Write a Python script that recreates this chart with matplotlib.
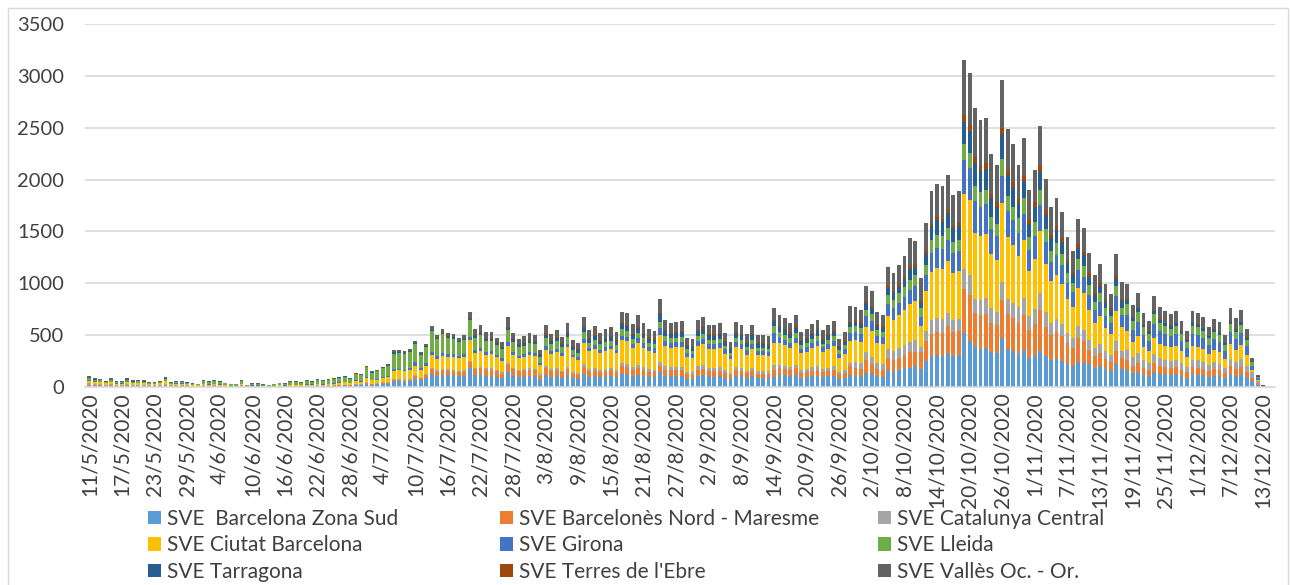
import matplotlib.pyplot as plt
import numpy as np
import pandas as pd
from matplotlib.patches import Rectangle

plt.rcParams['font.family'] = ['Lato', 'DejaVu Sans']

# dies 11/5/2020 - 13/12/2020
dates = pd.date_range('2020-05-11', '2020-12-13')
labels = [f'{d.day}/{d.month}/{d.year}' for d in dates]

zona_sud = [13, 10, 9, 7, 10, 7, 7, 10, 8, 8,
            8, 6, 5, 7, 11, 6, 7, 7, 6, 4,
            4, 6, 5, 5, 5, 3, 2, 2, 5, 2,
            3, 3, 2, 2, 3, 3, 3, 4, 5, 4,
            5, 5, 6, 5, 6, 7, 14, 16, 12, 20,
            19, 31, 22, 25, 30, 33, 54, 55, 52, 57,
            80, 65, 85, 121, 110, 120, 115, 112, 105, 108,
            181, 120, 125, 110, 105, 95, 85, 140, 110, 95,
            100, 105, 102, 70, 118, 100, 105, 90, 115, 85,
            75, 125, 100, 108, 95, 100, 105, 95, 130, 125,
            108, 117, 105, 96, 92, 143, 110, 105, 106, 108,
            81, 78, 110, 115, 102, 101, 104, 89, 74, 106,
            102, 87, 102, 85, 85, 83, 95, 118, 112, 105,
            117, 90, 95, 104, 110, 94, 102, 109, 79, 90,
            112, 110, 106, 134, 132, 103, 100, 166, 157, 168,
            181, 186, 202, 177, 250, 295, 306, 300, 330, 300,
            305, 523, 440, 394, 370, 380, 340, 325, 468, 370,
            350, 320, 355, 280, 310, 348, 300, 260, 275, 255,
            220, 200, 245, 232, 226, 185, 205, 172, 155, 220,
            175, 165, 131, 149, 118, 105, 144, 127, 121, 116,
            121, 105, 89, 121, 118, 111, 96, 109, 103, 83,
            125, 109, 122, 93, 54, 20, 3]

nord = [9, 7, 6, 5, 7, 5, 4, 7, 5, 5,
        5, 4, 4, 5, 8, 4, 5, 4, 4, 3,
        2, 4, 3, 4, 3, 2, 2, 1, 3, 1,
        2, 2, 1, 1, 2, 2, 2, 3, 3, 2,
        3, 3, 4, 3, 4, 4, 3, 3, 3, 4,
        4, 6, 5, 5, 6, 7, 10, 11, 10, 11,
        22, 18, 26, 48, 38, 42, 40, 40, 38, 40,
        57, 50, 55, 55, 60, 55, 45, 75, 62, 55,
        58, 62, 60, 40, 65, 55, 58, 50, 62, 45,
        42, 70, 55, 60, 52, 55, 58, 52, 72, 70,
        60, 62, 56, 51, 49, 57, 58, 56, 56, 57,
        43, 41, 58, 61, 54, 54, 55, 47, 39, 56,
        54, 46, 54, 45, 45, 44, 73, 62, 59, 56,
        62, 48, 50, 55, 58, 50, 54, 58, 42, 48,
        90, 75, 72, 122, 89, 70, 68, 112, 107, 114,
        123, 150, 137, 161, 190, 220, 226, 225, 255, 230,
        235, 419, 450, 323, 320, 320, 280, 270, 371, 330,
        320, 300, 335, 265, 295, 394, 280, 240, 255, 235,
        200, 180, 225, 212, 129, 110, 120, 100, 90, 130,
        100, 95, 76, 87, 69, 61, 84, 74, 70, 67,
        70, 61, 52, 70, 69, 65, 56, 63, 60, 48,
        73, 63, 71, 54, 35, 15, 2]

central = [16, 13, 12, 9, 12, 9, 9, 13, 10, 10,
           9, 7, 7, 9, 14, 7, 9, 9, 8, 5,
           5, 7, 6, 7, 6, 4, 3, 3, 7, 2,
           3, 4, 2, 2, 3, 4, 3, 5, 5, 4,
           6, 6, 7, 6, 7, 8, 4, 4, 3, 6,
           5, 8, 6, 7, 8, 9, 13, 13, 12, 13,
           10, 8, 10, 16, 14, 15, 15, 15, 14, 15,
           16, 16, 17, 16, 16, 15, 14, 20, 16, 15,
           15, 16, 16, 12, 18, 17, 18, 16, 20, 15,
           14, 22, 18, 20, 18, 20, 20, 19, 26, 25,
           22, 35, 31, 28, 27, 45, 32, 31, 31, 32,
           24, 23, 32, 34, 30, 30, 31, 26, 22, 31,
           30, 25, 30, 25, 25, 24, 48, 35, 33, 31,
           35, 27, 28, 31, 32, 28, 30, 32, 23, 26,
           32, 60, 58, 80, 72, 56, 54, 90, 86, 92,
           99, 96, 110, 48, 100, 130, 135, 135, 130, 120,
           120, 194, 190, 129, 150, 160, 140, 130, 177, 150,
           140, 150, 170, 135, 150, 168, 140, 120, 128, 118,
           100, 92, 114, 107, 97, 80, 90, 75, 67, 96,
           76, 100, 80, 90, 72, 64, 88, 77, 73, 70,
           73, 64, 54, 73, 72, 67, 58, 66, 63, 50,
           76, 66, 74, 56, 54, 20, 3]

ciutat = [23, 19, 17, 13, 18, 12, 13, 19, 14, 15,
          14, 10, 10, 13, 21, 10, 12, 13, 11, 8,
          7, 10, 9, 10, 9, 6, 4, 5, 10, 3,
          5, 5, 4, 3, 5, 6, 5, 8, 8, 7,
          10, 9, 11, 10, 11, 13, 20, 22, 17, 27,
          25, 41, 30, 33, 39, 45, 80, 82, 78, 85,
          95, 70, 85, 127, 110, 125, 120, 125, 118, 125,
          197, 140, 150, 130, 135, 120, 110, 165, 125, 115,
          120, 128, 125, 90, 160, 145, 160, 145, 185, 140,
          130, 210, 170, 180, 165, 175, 180, 165, 225, 220,
          185, 207, 185, 169, 162, 258, 194, 185, 188, 190,
          143, 138, 194, 203, 180, 178, 184, 158, 131, 188,
          179, 153, 180, 150, 150, 146, 213, 208, 198, 186,
          207, 159, 167, 183, 195, 165, 180, 192, 139, 158,
          205, 207, 200, 240, 249, 194, 188, 314, 297, 318,
          341, 368, 381, 200, 390, 460, 477, 475, 500, 450,
          460, 729, 720, 639, 620, 620, 520, 500, 758, 600,
          560, 490, 555, 440, 480, 590, 465, 400, 420, 388,
          330, 300, 375, 352, 290, 245, 268, 225, 202, 288,
          227, 182, 145, 165, 131, 116, 160, 141, 134, 128,
          134, 116, 99, 134, 131, 123, 106, 120, 115, 92,
          139, 121, 136, 103, 25, 12, 2]

girona = [6, 5, 5, 3, 5, 4, 3, 5, 4, 4,
          4, 3, 3, 3, 6, 3, 4, 3, 3, 2,
          2, 3, 3, 3, 3, 2, 2, 1, 3, 1,
          2, 2, 1, 1, 1, 2, 2, 3, 3, 2,
          3, 3, 4, 3, 4, 4, 5, 5, 4, 7,
          6, 10, 8, 8, 10, 11, 16, 16, 16, 17,
          32, 18, 22, 25, 25, 28, 27, 28, 27, 28,
          32, 28, 30, 27, 27, 25, 22, 35, 25, 23,
          24, 26, 25, 18, 30, 28, 30, 27, 35, 26,
          25, 38, 32, 34, 30, 32, 33, 30, 42, 42,
          36, 55, 49, 45, 43, 64, 52, 49, 50, 51,
          38, 37, 52, 54, 48, 48, 49, 42, 35, 50,
          48, 41, 48, 40, 40, 39, 95, 55, 53, 50,
          55, 42, 45, 49, 52, 44, 48, 51, 37, 42,
          83, 77, 74, 106, 92, 72, 70, 118, 110, 118,
          126, 134, 141, 90, 150, 190, 194, 195, 200, 190,
          190, 323, 310, 306, 280, 280, 240, 230, 258, 250,
          240, 225, 250, 200, 220, 252, 210, 182, 190, 177,
          152, 140, 170, 161, 145, 120, 132, 110, 100, 143,
          112, 150, 121, 137, 109, 97, 133, 117, 111, 106,
          111, 97, 82, 111, 109, 102, 88, 100, 95, 76,
          115, 100, 113, 86, 38, 15, 2]

lleida = [19, 15, 14, 10, 15, 10, 11, 15, 11, 12,
          12, 9, 8, 10, 18, 9, 11, 11, 10, 7,
          6, 29, 26, 30, 26, 19, 13, 13, 31, 8,
          16, 15, 12, 8, 14, 19, 16, 25, 26, 21,
          29, 27, 35, 29, 35, 42, 45, 49, 37, 62,
          55, 94, 67, 74, 89, 100, 150, 150, 147, 153,
          175, 130, 155, 203, 165, 180, 155, 145, 130, 133,
          159, 120, 125, 110, 105, 95, 90, 110, 95, 80,
          82, 85, 82, 60, 85, 70, 68, 55, 68, 48,
          45, 65, 52, 55, 50, 50, 52, 48, 62, 60,
          52, 48, 43, 39, 38, 60, 45, 43, 44, 44,
          33, 32, 45, 47, 42, 42, 43, 37, 31, 44,
          42, 36, 42, 35, 35, 34, 64, 49, 46, 43,
          48, 37, 39, 43, 45, 38, 42, 45, 32, 37,
          61, 60, 58, 61, 72, 56, 54, 90, 86, 92,
          99, 99, 110, 90, 95, 125, 129, 125, 120, 110,
          110, 152, 150, 145, 140, 140, 120, 115, 168, 140,
          130, 140, 155, 125, 135, 145, 130, 112, 118, 110,
          95, 87, 105, 100, 97, 80, 88, 75, 67, 96,
          76, 110, 87, 99, 79, 70, 96, 85, 80, 77,
          80, 70, 60, 80, 79, 74, 64, 72, 69, 55,
          83, 73, 82, 62, 32, 15, 2]

tarragona = [4, 4, 3, 2, 3, 2, 2, 4, 3, 3,
             3, 2, 2, 2, 4, 2, 2, 2, 2, 1,
             1, 2, 2, 2, 2, 2, 1, 1, 2, 1,
             1, 1, 1, 1, 1, 1, 1, 2, 2, 1,
             2, 2, 2, 2, 2, 3, 3, 3, 3, 4,
             4, 6, 5, 5, 6, 7, 10, 10, 10, 10,
             10, 7, 9, 13, 12, 12, 12, 13, 12, 13,
             16, 18, 20, 18, 18, 17, 16, 25, 25, 22,
             23, 24, 24, 17, 30, 27, 30, 28, 35, 27,
             26, 40, 33, 36, 32, 35, 36, 34, 46, 45,
             38, 48, 43, 39, 38, 73, 45, 43, 44, 44,
             33, 32, 45, 47, 42, 42, 43, 37, 31, 44,
             42, 36, 42, 35, 35, 34, 48, 49, 46, 43,
             48, 37, 39, 43, 45, 38, 42, 45, 32, 37,
             32, 42, 41, 64, 51, 40, 38, 64, 61, 65,
             70, 102, 78, 45, 110, 130, 145, 140, 145, 130,
             135, 219, 210, 226, 200, 205, 180, 170, 235, 200,
             190, 145, 165, 130, 145, 177, 137, 118, 124, 115,
             98, 88, 110, 104, 81, 70, 75, 63, 57, 80,
             63, 35, 27, 31, 24, 22, 30, 26, 25, 24,
             25, 22, 18, 25, 24, 23, 20, 22, 21, 17,
             26, 22, 25, 19, 16, 6, 1]

ebre = [2, 2, 1, 1, 2, 1, 1, 2, 1, 1,
        1, 1, 0, 1, 2, 1, 1, 1, 1, 1,
        0, 1, 1, 1, 1, 1, 0, 1, 1, 0,
        1, 1, 0, 0, 1, 1, 1, 1, 1, 1,
        1, 1, 2, 1, 1, 2, 1, 1, 1, 1,
        1, 2, 1, 1, 2, 2, 3, 3, 3, 3,
        3, 2, 3, 0, 3, 4, 4, 4, 3, 4,
        10, 8, 8, 8, 8, 8, 7, 12, 10, 8,
        9, 10, 10, 7, 10, 9, 10, 9, 11, 8,
        8, 12, 10, 11, 10, 10, 10, 10, 14, 13,
        11, 14, 12, 11, 11, 10, 13, 12, 13, 13,
        10, 9, 13, 14, 12, 12, 12, 10, 9, 13,
        12, 10, 12, 10, 10, 10, 10, 14, 13, 12,
        14, 11, 11, 12, 13, 11, 12, 13, 9, 11,
        10, 15, 14, 26, 18, 14, 13, 22, 21, 22,
        24, 32, 27, 15, 25, 25, 23, 25, 30, 25,
        25, 65, 60, 58, 50, 50, 40, 40, 65, 50,
        45, 47, 53, 42, 46, 55, 44, 38, 40, 37,
        32, 29, 36, 34, 32, 26, 28, 23, 21, 30,
        24, 8, 6, 7, 6, 5, 7, 6, 6, 6,
        6, 5, 4, 6, 6, 5, 5, 5, 5, 4,
        6, 5, 6, 5, 0, 0, 0]

valles = [14, 11, 10, 8, 11, 8, 8, 11, 8, 9,
          8, 6, 6, 8, 12, 6, 7, 8, 6, 4,
          5, 5, 3, 5, 3, 3, 2, 2, 5, 1,
          2, 2, 2, 1, 2, 3, 2, 3, 4, 3,
          5, 4, 5, 5, 6, 6, 4, 5, 3, 6,
          5, 9, 6, 7, 7, 9, 20, 19, 19, 20,
          18, 16, 18, 32, 25, 31, 30, 33, 30, 33,
          54, 63, 68, 54, 54, 47, 47, 89, 57, 54,
          56, 62, 62, 45, 82, 64, 68, 63, 83, 58,
          55, 95, 77, 84, 73, 80, 85, 81, 108, 109,
          92, 104, 93, 85, 81, 142, 97, 93, 94, 94,
          72, 71, 97, 102, 91, 88, 93, 79, 64, 94,
          89, 75, 91, 74, 74, 73, 111, 103, 101, 94,
          104, 80, 83, 91, 99, 82, 90, 95, 71, 79,
          159, 122, 119, 143, 147, 115, 113, 182, 176, 189,
          201, 273, 224, 222, 271, 319, 323, 322, 338, 300,
          307, 531, 496, 467, 441, 435, 382, 365, 458, 394,
          370, 322, 365, 286, 316, 387, 304, 262, 273, 252,
          215, 197, 243, 230, 193, 165, 184, 153, 138, 199,
          155, 151, 122, 138, 108, 96, 133, 117, 111, 106,
          111, 96, 83, 111, 108, 104, 86, 101, 95, 77,
          114, 102, 112, 85, 29, 15, 1]

names = ['SVE  Barcelona Zona Sud', 'SVE Barcelonès Nord - Maresme', 'SVE Catalunya Central',
         'SVE Ciutat Barcelona', 'SVE Girona', 'SVE Lleida',
         'SVE Tarragona', "SVE Terres de l'Ebre", 'SVE Vallès Oc. - Or.']
colors = ['#5B9BD5', '#ED7D31', '#A5A5A5', '#FFC000', '#4472C4', '#70AD47',
          '#255E91', '#9E480E', '#636363']
data = [zona_sud, nord, central, ciutat, girona, lleida, tarragona, ebre, valles]

W, H = 1290, 585
fig = plt.figure(figsize=(W / 100, H / 100), dpi=100)
fig.patches.append(Rectangle((8 / W, -0.01), 1280 / W, 1 - 8 / H + 0.01, transform=fig.transFigure,
                             fill=False, edgecolor='#d9d9d9', lw=1))
ax = fig.add_axes([85 / W, 1 - 387 / H, 1190 / W, 363 / H])

x = np.arange(len(dates))
bottom = np.zeros(len(dates))
bars = []
for vals, name, col in zip(data, names, colors):
    b = ax.bar(x, vals, 0.7, bottom=bottom, color=col, label=name, zorder=2)
    bars.append(b)
    bottom += np.array(vals)

ax.set_xlim(-0.8, len(dates) + 1.2)
ax.set_ylim(0, 3500)
ax.set_yticks(range(0, 3501, 500))
ax.yaxis.grid(True, color='#d9d9d9', lw=1.2)
ax.set_axisbelow(True)
for s in ['top', 'right', 'left']:
    ax.spines[s].set_visible(False)
ax.spines['bottom'].set_color('#d9d9d9')
ax.spines['bottom'].set_linewidth(1.2)
ax.set_xticks(x[::6])
ax.set_xticklabels(labels[::6], rotation=90, va='top', ha='center')
ax.tick_params(axis='y', length=0, labelsize=14.5, labelcolor='#404040', pad=15)
ax.tick_params(axis='x', length=0, labelsize=15, labelcolor='#404040', pad=4)

# llegenda en tres columnes
cols_x = [148, 500, 878]
for c in range(3):
    idx = [c, c + 3, c + 6]
    leg = fig.legend([bars[i] for i in idx], [names[i] for i in idx],
                     loc='upper left', bbox_to_anchor=(cols_x[c] / W, 1 - 509 / H),
                     frameon=False, fontsize=15, borderpad=0, borderaxespad=0,
                     handlelength=0.6, handleheight=0.6, handletextpad=0.3,
                     labelspacing=0.3, labelcolor='#404040')

fig.savefig('out.png', dpi=100)
